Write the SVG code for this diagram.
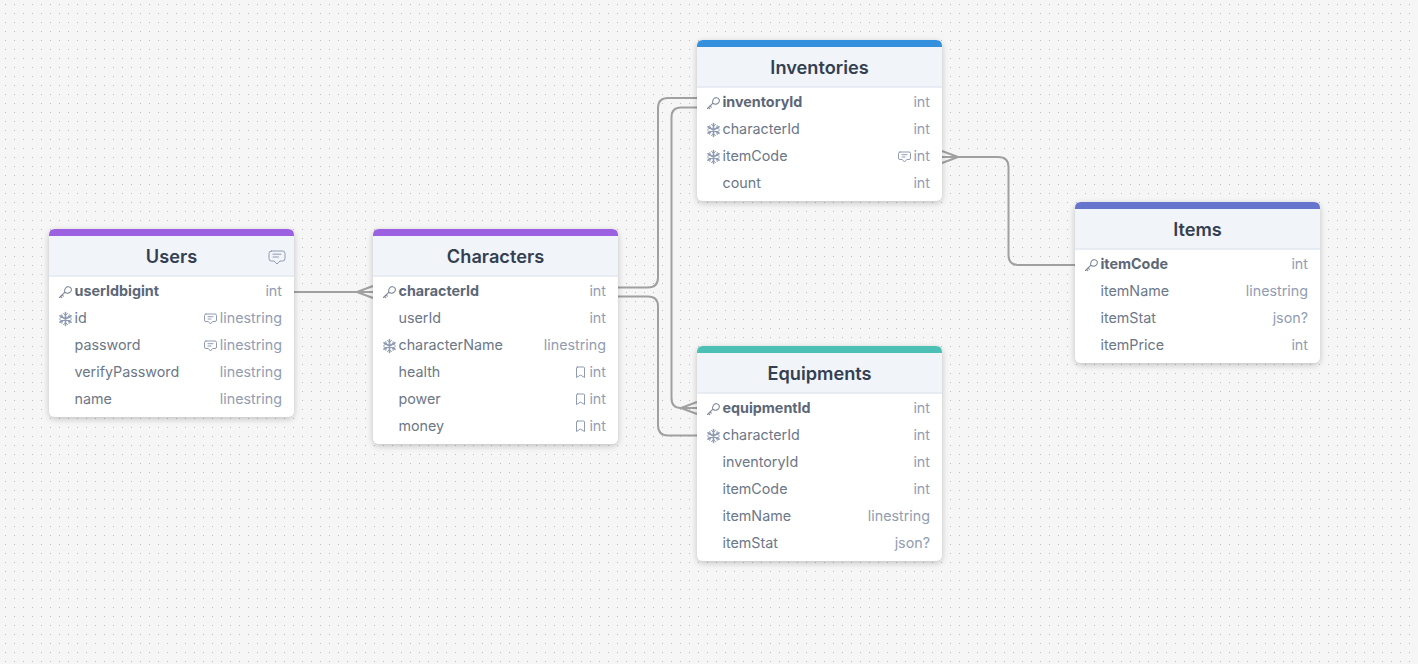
<svg xmlns="http://www.w3.org/2000/svg" width="1418" height="664" viewBox="0 0 1418 664">
<style>
text{font-family:Inter,"Liberation Sans",sans-serif}
.t{font-size:18.200px;font-weight:600;fill:#343f52;text-anchor:middle}
.n{font-size:14.300px;fill:#6c7788}
.b{font-weight:700;fill:#5c6777}
.y{font-size:14.300px;fill:#929db3;text-anchor:end}
.card{fill:#fff;filter:url(#sh)}
.sep{stroke:#e2e8f0;stroke-width:1.5}
.c{fill:none;stroke:#a0a0a0;stroke-width:2}
.ic{fill:none;stroke:#8f9bb3;stroke-width:1;stroke-linejoin:round;stroke-linecap:round}
.ky{fill:none;stroke:#7f8a99;stroke-width:1.100;stroke-linejoin:round;stroke-linecap:round}
.sn{fill:none;stroke:#8f9bb3;stroke-width:1.600;stroke-linecap:round}
.sb{fill:none;stroke:#8f9bb3;stroke-width:1;stroke-linecap:round;stroke-linejoin:round}
</style>
<defs>
<pattern id="dots" width="9" height="9" patternUnits="userSpaceOnUse"><rect x="5" y="4" width="1" height="1" fill="#bcbcbc"/></pattern>
<filter id="sh" x="-10%" y="-10%" width="120%" height="120%"><feDropShadow dx="0" dy="2" stdDeviation="3" flood-color="#000" flood-opacity="0.22"/></filter>
<g id="key"><path class="ky" d="M-5.500 5.500L-0.300 0.300M-4.400 4.400L-3.200 5.700M-2.900 2.900L-1.700 4.100"/><path class="ky" d="M-0.300 0.300C-1-2.600 1-5.600 3.700-5.300C6.300-5 7-2.500 5.900-0.700C4.700 1.400 1.800 1.800-0.300 0.300Z"/></g>
<g id="snow"><path class="sn" d="M0-6.500V6.500M-5.600-3.200L5.600 3.200M-5.600 3.200L5.600-3.200"/><path class="sb" d="M-2-5.500L0-3.700L2-5.500M-2 5.500L0 3.700L2 5.500M-5.700-0.800L-3.200-1.800L-3.700-4.400M5.700-0.800L3.200-1.800L3.700-4.400M-5.700 0.800L-3.200 1.800L-3.700 4.400M5.700 0.800L3.200 1.800L3.700 4.400"/></g>
<g id="cm"><path class="ic" d="M-4.500-4.500H4.500Q6-4.500 6-3V1.500Q6 3 4.500 3H2.200L0 5.500L-2.200 3H-4.500Q-6 3-6 1.500V-3Q-6-4.500-4.500-4.500ZM-2.500-1.800H2.500M-2.500 0.500H0.500"/></g>
<g id="cmb"><path class="ic" stroke-width="1.300" d="M-5.500-6H5.500Q8-6 8-3.500V1.500Q8 4 5.500 4H3L0 7L-3 4H-5.500Q-8 4-8 1.500V-3.500Q-8-6-5.500-6ZM-4-2.800H4M-4 0H1.500"/></g>
<g id="bm"><path class="ic" d="M-3-5.500H3Q4-5.500 4-4.500V5L0 2.500L-4 5V-4.500Q-4-5.500-3-5.500Z"/></g>
</defs>
<rect width="1418" height="664" fill="#f6f6f6"/>
<rect width="1418" height="664" fill="url(#dots)"/>
<g id="connectors">
<path class="c" d="M294 292H373"/>
<path class="c" d="M357 292L373 286M357 292L373 298"/>
<path class="c" d="M618 287.500H648Q658 287.500 658 277.500V108Q658 98 668 98H697"/>
<path class="c" d="M618 296.500H648Q658 296.500 658 306.500V425Q658 435.500 668 435.500H697"/>
<path class="c" d="M697 107.500H681Q671.500 107.500 671.500 117.500V398Q671.500 408 681 408H697"/>
<path class="c" d="M681 408L697 402M681 408L697 414"/>
<path class="c" d="M942 157H998Q1008.500 157 1008.500 167V255Q1008.500 265 1018.500 265H1075"/>
<path class="c" d="M958 157L942 151M958 157L942 163"/>
</g>
<g id="users">
<rect class="card" x="49" y="229" width="245" height="188" rx="6"/>
<path d="M49 235Q49 229 55 229H288Q294 229 294 235V276H49Z" fill="#f1f4f9"/>
<path d="M49 236V235Q49 229 55 229H288Q294 229 294 235V236Z" fill="#9b61e0"/>
<line class="sep" x1="49" y1="276" x2="294" y2="276"/>
<text class="t" x="171.500" y="262.500">Users</text>
<use href="#cmb" x="277" y="257"/>
<use href="#key" x="65" y="292"/><text class="n b" x="74.500" y="296">userIdbigint</text><text class="y" x="282" y="296">int</text>
<use href="#snow" x="65.500" y="319"/><text class="n" x="74.500" y="323">id</text><use href="#cm" x="210.500" y="318.500"/><text class="y" x="282" y="323">linestring</text>
<text class="n" x="74.500" y="350">password</text><use href="#cm" x="210.500" y="345.500"/><text class="y" x="282" y="350">linestring</text>
<text class="n" x="74.500" y="377">verifyPassword</text><text class="y" x="282" y="377">linestring</text>
<text class="n" x="74.500" y="404">name</text><text class="y" x="282" y="404">linestring</text>
</g>
<g id="characters">
<rect class="card" x="373" y="229" width="245" height="215" rx="6"/>
<path d="M373 235Q373 229 379 229H612Q618 229 618 235V276H373Z" fill="#f1f4f9"/>
<path d="M373 236V235Q373 229 379 229H612Q618 229 618 235V236Z" fill="#9b61e0"/>
<line class="sep" x1="373" y1="276" x2="618" y2="276"/>
<text class="t" x="495.500" y="262.500">Characters</text>
<use href="#key" x="389" y="292"/><text class="n b" x="398.500" y="296">characterId</text><text class="y" x="606" y="296">int</text>
<text class="n" x="398.500" y="323">userId</text><text class="y" x="606" y="323">int</text>
<use href="#snow" x="389.500" y="346"/><text class="n" x="398.500" y="350">characterName</text><text class="y" x="606" y="350">linestring</text>
<text class="n" x="398.500" y="377">health</text><use href="#bm" x="580.500" y="372.500"/><text class="y" x="606" y="377">int</text>
<text class="n" x="398.500" y="404">power</text><use href="#bm" x="580.500" y="399.500"/><text class="y" x="606" y="404">int</text>
<text class="n" x="398.500" y="431">money</text><use href="#bm" x="580.500" y="426.500"/><text class="y" x="606" y="431">int</text>
</g>
<g id="inventories">
<rect class="card" x="697" y="40" width="245" height="161" rx="6"/>
<path d="M697 46Q697 40 703 40H936Q942 40 942 46V87H697Z" fill="#f1f4f9"/>
<path d="M697 47V46Q697 40 703 40H936Q942 40 942 46V47Z" fill="#3490dc"/>
<line class="sep" x1="697" y1="87" x2="942" y2="87"/>
<text class="t" x="819.500" y="73.500">Inventories</text>
<use href="#key" x="713" y="103"/><text class="n b" x="722.500" y="107">inventoryId</text><text class="y" x="930" y="107">int</text>
<use href="#snow" x="713.500" y="130"/><text class="n" x="722.500" y="134">characterId</text><text class="y" x="930" y="134">int</text>
<use href="#snow" x="713.500" y="157"/><text class="n" x="722.500" y="161">itemCode</text><use href="#cm" x="904.500" y="156.500"/><text class="y" x="930" y="161">int</text>
<text class="n" x="722.500" y="188">count</text><text class="y" x="930" y="188">int</text>
</g>
<g id="equipments">
<rect class="card" x="697" y="346" width="245" height="215" rx="6"/>
<path d="M697 352Q697 346 703 346H936Q942 346 942 352V393H697Z" fill="#f1f4f9"/>
<path d="M697 353V352Q697 346 703 346H936Q942 346 942 352V353Z" fill="#4dc0b5"/>
<line class="sep" x1="697" y1="393" x2="942" y2="393"/>
<text class="t" x="819.500" y="379.500">Equipments</text>
<use href="#key" x="713" y="409"/><text class="n b" x="722.500" y="413">equipmentId</text><text class="y" x="930" y="413">int</text>
<use href="#snow" x="713.500" y="436"/><text class="n" x="722.500" y="440">characterId</text><text class="y" x="930" y="440">int</text>
<text class="n" x="722.500" y="467">inventoryId</text><text class="y" x="930" y="467">int</text>
<text class="n" x="722.500" y="494">itemCode</text><text class="y" x="930" y="494">int</text>
<text class="n" x="722.500" y="521">itemName</text><text class="y" x="930" y="521">linestring</text>
<text class="n" x="722.500" y="548">itemStat</text><text class="y" x="930" y="548">json?</text>
</g>
<g id="items">
<rect class="card" x="1075" y="202" width="245" height="161" rx="6"/>
<path d="M1075 208Q1075 202 1081 202H1314Q1320 202 1320 208V249H1075Z" fill="#f1f4f9"/>
<path d="M1075 209V208Q1075 202 1081 202H1314Q1320 202 1320 208V209Z" fill="#6574cd"/>
<line class="sep" x1="1075" y1="249" x2="1320" y2="249"/>
<text class="t" x="1197.500" y="235.500">Items</text>
<use href="#key" x="1091" y="265"/><text class="n b" x="1100.500" y="269">itemCode</text><text class="y" x="1308" y="269">int</text>
<text class="n" x="1100.500" y="296">itemName</text><text class="y" x="1308" y="296">linestring</text>
<text class="n" x="1100.500" y="323">itemStat</text><text class="y" x="1308" y="323">json?</text>
<text class="n" x="1100.500" y="350">itemPrice</text><text class="y" x="1308" y="350">int</text>
</g>
</svg>
